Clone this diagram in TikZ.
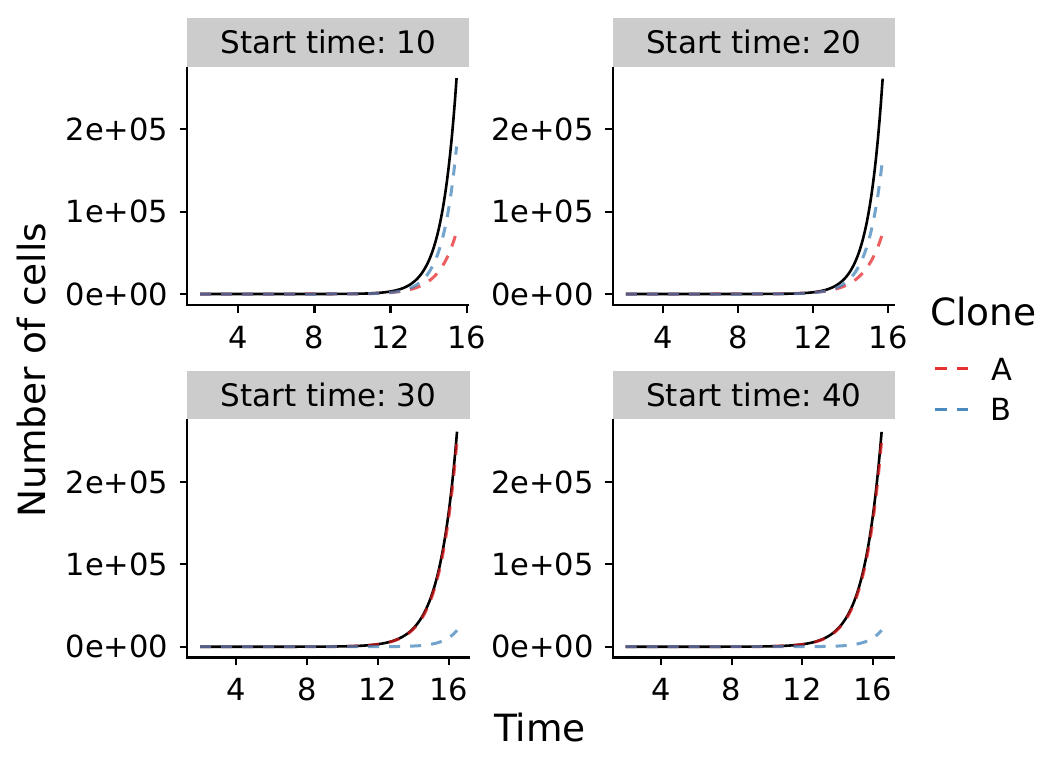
\documentclass[tikz,border=0pt]{standalone}
\usepackage{fontspec}
\setmainfont{DejaVu Sans}
\frenchspacing
\definecolor{cloneA}{HTML}{E41A1C}
\definecolor{cloneB}{HTML}{377EB8}
\definecolor{stripgray}{HTML}{CCCCCC}
\newcommand{\tickfont}{\fontsize{30.5}{36}\selectfont}
\newcommand{\stripfont}{\fontsize{31}{36}\selectfont}
\newcommand{\ttlfont}{\fontsize{37.5}{44}\selectfont}
\newcommand{\drawcurve}[7]{\draw[#1] plot[domain=2:#7,samples=160] ({#2+#3*(\x-4)},{#4-82.4*#5*exp(#6*(\x-#7))});}
\tikzset{
  axisline/.style={line width=2.2pt, line join=miter, line cap=butt, black},
  tickline/.style={line width=2.2pt, black},
  stripbox/.style={fill=stripgray, draw=none},
  striptext/.style={anchor=base, inner sep=0pt, font=\stripfont},
  xlab/.style={anchor=base, inner sep=0pt, font=\tickfont},
  ylab/.style={anchor=east, inner sep=0pt, font=\tickfont},
  titletext/.style={inner sep=0pt, font=\ttlfont},
  blackcurve/.style={line width=2.6pt, black, line join=round},
  redcurve/.style={line width=3pt, cloneA, opacity=0.7, dash pattern=on 11pt off 10pt},
  bluecurve/.style={line width=3pt, cloneB, opacity=0.7, dash pattern=on 11pt off 10pt},
  legkeyA/.style={line width=3pt, cloneA, opacity=0.9, dash pattern=on 11.7pt off 10pt},
  legkeyB/.style={line width=3pt, cloneB, opacity=0.9, dash pattern=on 11.7pt off 10pt}
}
\begin{document}
\begin{tikzpicture}[x=1pt,y=-1pt]
\useasboundingbox (0,0) rectangle (1056,768);
\fill[white] (0,0) rectangle (1056,768);

% ---------- Panel: Start time 10 (top left) ----------
\fill[stripbox] (187.3,18.3) rectangle (469.3,66.7);
\node[striptext] (s10) at (328.3,54) {Start time: 10};
\foreach \v/\l [count=\i] in {0/0e+00,1/1e+05,2/2e+05}{
  \draw[tickline] (179.5,{294-82.4*\v}) -- (187.3,{294-82.4*\v});
  \node[ylab] (ya\i) at (168.5,{294-82.4*\v}) {\l};
}
\foreach \t [count=\i] in {4,8,12,16}{
  \draw[tickline] ({238.3+19.03*(\t-4)},304.8) -- ++(0,7.7);
  \node[xlab] (xa\i) at ({238.3+19.03*(\t-4)},348.3) {\t};
}
\drawcurve{blackcurve}{238.3}{19.03}{294}{2.62}{1.28}{15.47}
\drawcurve{redcurve}{238.3}{19.03}{294}{0.757}{1.08}{15.47}
\drawcurve{bluecurve}{238.3}{19.03}{294}{1.79}{1.32}{15.47}
\draw[axisline] (187.3,66.7) -- (187.3,304.8) -- (469.3,304.8);

% ---------- Panel: Start time 20 (top right) ----------
\fill[stripbox] (612.7,18.3) rectangle (895,66.7);
\node[striptext] (s20) at (753.85,54) {Start time: 20};
\foreach \v/\l [count=\i] in {0/0e+00,1/1e+05,2/2e+05}{
  \draw[tickline] (604.9,{294-82.4*\v}) -- (612.7,{294-82.4*\v});
  \node[ylab] (yb\i) at (594,{294-82.4*\v}) {\l};
}
\foreach \t [count=\i] in {4,8,12,16}{
  \draw[tickline] ({663.3+18.75*(\t-4)},304.8) -- ++(0,7.7);
  \node[xlab] (xb\i) at ({663.3+18.75*(\t-4)},348.3) {\t};
}
\drawcurve{blackcurve}{663.3}{18.75}{294}{2.62}{1.3}{15.7}
\drawcurve{redcurve}{663.3}{18.75}{294}{0.74}{1.0}{15.7}
\drawcurve{bluecurve}{663.3}{18.75}{294}{1.65}{1.25}{15.7}
\draw[axisline] (612.7,66.7) -- (612.7,304.8) -- (895,304.8);

% ---------- Panel: Start time 30 (bottom left) ----------
\fill[stripbox] (187.3,371) rectangle (470,419.3);
\node[striptext] (s30) at (328.65,406) {Start time: 30};
\foreach \v/\l [count=\i] in {0/0e+00,1/1e+05,2/2e+05}{
  \draw[tickline] (179.5,{646.7-82.4*\v}) -- (187.3,{646.7-82.4*\v});
  \node[ylab] (yc\i) at (168.5,{646.7-82.4*\v}) {\l};
}
\foreach \t [count=\i] in {4,8,12,16}{
  \draw[tickline] ({235.7+17.75*(\t-4)},657.5) -- ++(0,7.7);
  \node[xlab] (xc\i) at ({235.7+17.75*(\t-4)},700) {\t};
}
\drawcurve{blackcurve}{235.7}{17.75}{646.7}{2.61}{1.0}{16.47}
\drawcurve{redcurve}{235.7}{17.75}{646.7}{2.5}{1.0}{16.47}
\drawcurve{bluecurve}{235.7}{17.75}{646.7}{0.2}{1.3}{16.47}
\draw[axisline] (187.3,419.3) -- (187.3,657.5) -- (470,657.5);

% ---------- Panel: Start time 40 (bottom right) ----------
\fill[stripbox] (612.7,371) rectangle (895,419.3);
\node[striptext] (s40) at (753.85,406) {Start time: 40};
\foreach \v/\l [count=\i] in {0/0e+00,1/1e+05,2/2e+05}{
  \draw[tickline] (604.9,{646.7-82.4*\v}) -- (612.7,{646.7-82.4*\v});
  \node[ylab] (yd\i) at (594,{646.7-82.4*\v}) {\l};
}
\foreach \t [count=\i] in {4,8,12,16}{
  \draw[tickline] ({661+17.65*(\t-4)},657.5) -- ++(0,7.7);
  \node[xlab] (xd\i) at ({661+17.65*(\t-4)},700) {\t};
}
\drawcurve{blackcurve}{661}{17.65}{646.7}{2.61}{1.0}{16.5}
\drawcurve{redcurve}{661}{17.65}{646.7}{2.5}{1.0}{16.5}
\drawcurve{bluecurve}{661}{17.65}{646.7}{0.2}{1.3}{16.5}
\draw[axisline] (612.7,419.3) -- (612.7,657.5) -- (895,657.5);

% ---------- Axis titles ----------
\node[titletext, anchor=base] (xtitle) at (540,741.7) {Time};
\node[titletext, rotate=90, anchor=base] (ytitle) at (45,370) {Number of cells};

% ---------- Legend ----------
\node[titletext, anchor=base west] (legtitle) at (930,325.7) {Clone};
\coordinate (ka1) at (935,368.3);
\coordinate (ka2) at (968.3,368.3);
\coordinate (kb1) at (935,409.3);
\coordinate (kb2) at (968.3,409.3);
\draw[legkeyA] (ka1) -- (ka2);
\draw[legkeyB] (kb1) -- (kb2);
\node[xlab, anchor=base west] (legA) at (991.5,380) {A};
\node[xlab, anchor=base west] (legB) at (990,420.3) {B};
\end{tikzpicture}
\end{document}
